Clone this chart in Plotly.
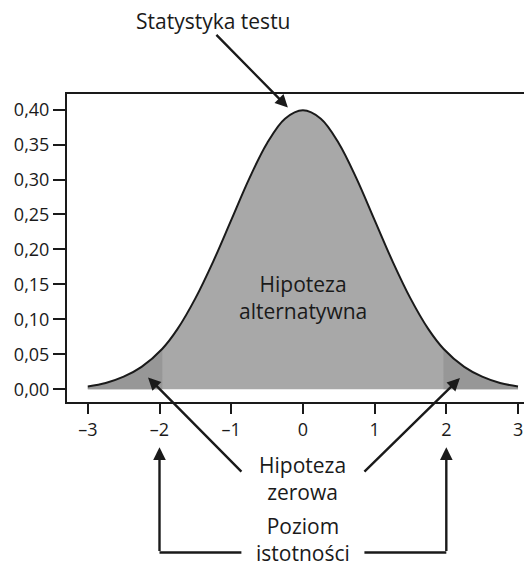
import plotly.graph_objects as go

# Values (density curve)
curve_x = [-3.0, -2.75, -2.5, -2.25, -1.96, -1.75, -1.5, -1.25, -1.0, -0.75, -0.5, -0.25, 0.0,
           0.25, 0.5, 0.75, 1.0, 1.25, 1.5, 1.75, 1.96, 2.25, 2.5, 2.75, 3.0]
curve_y = [0.004, 0.009, 0.018, 0.032, 0.058, 0.086, 0.130, 0.183, 0.242, 0.301, 0.352, 0.387, 0.399,
           0.387, 0.352, 0.301, 0.242, 0.183, 0.130, 0.086, 0.058, 0.032, 0.018, 0.009, 0.004]
critical = 1.96

x_tickvals = [-3, -2, -1, 0, 1, 2, 3]
x_ticktext = ["–3", "–2", "–1", "0", "1", "2", "3"]
y_tickvals = [0.0, 0.05, 0.10, 0.15, 0.20, 0.25, 0.30, 0.35, 0.40]
y_ticktext = ["0,00", "0,05", "0,10", "0,15", "0,20", "0,25", "0,30", "0,35", "0,40"]

FONT = "Open Sans"
INK = "#1a1a1a"
TAIL = "#979797"
MID = "#a8a8a8"

X0, X1 = -3.29, 3.195
Y0, Y1 = -0.0182, 0.4223
W, H = 524, 561
ML, MR, MT, MB = 59, 0, 86, 167
PXX = (W - ML - MR) / (X1 - X0)
PXY = (H - MT - MB) / (Y1 - Y0)

def yp(v):
    return (v - Y0) / (Y1 - Y0)

left = [(x, y) for x, y in zip(curve_x, curve_y) if x <= -critical]
right = [(x, y) for x, y in zip(curve_x, curve_y) if x >= critical]

fig = go.Figure()
for seg, col in [(list(zip(curve_x, curve_y)), MID), (left, TAIL), (right, TAIL)]:
    fig.add_trace(go.Scatter(
        x=[p[0] for p in seg], y=[p[1] for p in seg],
        mode="lines", line=dict(width=0, shape="spline", color=col),
        fill="tozeroy", fillcolor=col, hoverinfo="skip", showlegend=False))
fig.add_trace(go.Scatter(
    x=curve_x, y=curve_y, mode="lines",
    line=dict(color=INK, width=2, shape="spline"), showlegend=False))

tfont = dict(family=FONT, size=21, color=INK)
ann = []

def label(x, y, text):
    return dict(x=x, y=yp(y), xref="x", yref="paper", text=text, showarrow=False,
                font=tfont, xanchor="center", yanchor="middle")

ann.append(label(-1.25, 0.527, "Statystyka testu"))
ann.append(label(0, 0.131, "Hipoteza<br>alternatywna"))
ann.append(label(0, -0.127, "Hipoteza<br>zerowa"))
ann.append(label(0, -0.215, "Poziom<br>istotności"))

def arrow(x, y, tx, ty, head=2):
    return dict(x=x, y=yp(y), xref="x", yref="paper",
                ax=(tx - x) * PXX, ay=-(ty - y) * PXY, axref="pixel", ayref="pixel",
                text="", showarrow=True, arrowhead=head, arrowsize=1.05, arrowwidth=2.4,
                arrowcolor=INK, standoff=0, startstandoff=0)

ann.append(arrow(-0.21, 0.403, -1.227, 0.509))
ann.append(arrow(-2.16, 0.017, -0.837, -0.120))
ann.append(arrow(2.19, 0.016, 0.837, -0.120))
ann.append(arrow(-2.0, -0.083, -2.0, -0.2335))
ann.append(arrow(2.0, -0.083, 2.0, -0.2335))
ann.append(arrow(-2.0, -0.2335, -0.837, -0.2335, head=0))
ann.append(arrow(2.0, -0.2335, 0.837, -0.2335, head=0))

fig.update_layout(
    width=W, height=H,
    margin=dict(l=ML, r=MR, t=MT, b=MB),
    paper_bgcolor="white", plot_bgcolor="white",
    annotations=ann,
    font=dict(family=FONT, color=INK),
    xaxis=dict(range=[X0, X1], tickvals=x_tickvals, ticktext=x_ticktext,
               showgrid=False, zeroline=False, showline=True, linecolor=INK, linewidth=2,
               mirror=True, ticks="outside", ticklen=10, tickwidth=2, tickcolor=INK,
               tickfont=dict(family=FONT, size=18, color=INK)),
    yaxis=dict(range=[Y0, Y1], tickvals=y_tickvals, ticktext=y_ticktext,
               showgrid=False, zeroline=False, showline=True, linecolor=INK, linewidth=2,
               ticks="outside", ticklen=12, tickwidth=2, tickcolor=INK,
               tickfont=dict(family=FONT, size=18, color=INK)),
)

fig.write_html("out.html")
